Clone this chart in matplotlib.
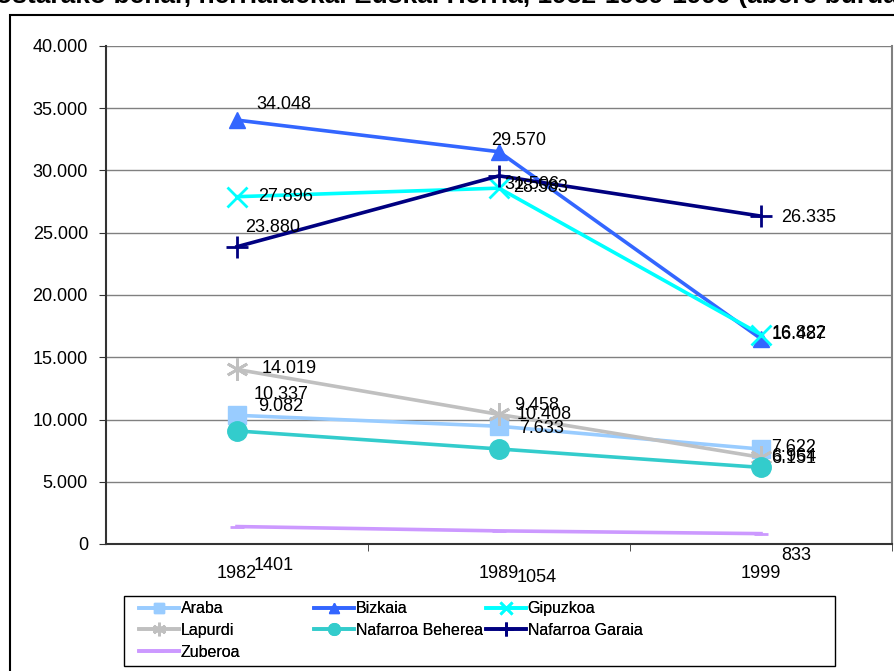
"""Livestock by territory, Euskal Herria 1982-1989-1999 (line chart with data labels)."""

import matplotlib

matplotlib.use("Agg")
import matplotlib.pyplot as plt
from matplotlib.patches import Rectangle
from matplotlib.ticker import FuncFormatter, FixedLocator

plt.rcParams["font.family"] = ["Liberation Sans", "DejaVu Sans"]

years = ["1982", "1989", "1999"]
araba = [10337, 9458, 7622]
bizkaia = [34048, 31506, 16487]
gipuzkoa = [27896, 28583, 16822]
lapurdi = [14019, 10408, 6964]
nafarroa_beherea = [9082, 7633, 6151]
nafarroa_garaia = [23880, 29570, 26335]
zuberoa = [1401, 1054, 833]

# label texts as shown in the chart
araba_labels = ["10.337", "9.458", "7.622"]
bizkaia_labels = ["34.048", "29.570", "16.487"]
gipuzkoa_labels = ["27.896", "28.583", "16.822"]
lapurdi_labels = ["14.019", "10.408", "6.964"]
nb_labels = ["9.082", "7.633", "6.151"]
ng_labels = ["23.880", "31.506", "26.335"]
zuberoa_labels = ["1401", "1054", "833"]

FS = 13

series = [
    ("Araba", araba, araba_labels, "#99CCFF", "s", 13, [(17, 21), (15, 21), (10, 2)]),
    ("Bizkaia", bizkaia, bizkaia_labels, "#3366FF", "^", 12, [(19, 16), (-8, 11), (11, 4)]),
    ("Gipuzkoa", gipuzkoa, gipuzkoa_labels, "#00FFFF", "x", 14, [(21, 0), (14, 1), (11, 1)]),
    ("Lapurdi", lapurdi, lapurdi_labels, "#C0C0C0", (6, 2, 0), 16, [(25, 1), (18, 0), (10, 1)]),
    ("Nafarroa Beherea", nafarroa_beherea, nb_labels, "#33CCCC", "o", 14, [(21, 24), (20, 20), (10, 9)]),
    ("Nafarroa Garaia", nafarroa_garaia, ng_labels, "#000080", "+", 16, [(8, 19), (5, -9), (20, -1)]),
    ("Zuberoa", zuberoa, zuberoa_labels, "#CC99FF", "_", 10, [(17, -39), (18, -47), (20, -22)]),
]

fig = plt.figure(figsize=(8.95, 6.71), dpi=100)
ax = fig.add_axes([106 / 895, 1 - 544 / 671, 786 / 895, 498 / 671])

x = list(range(len(years)))
handles = {}
for name, values, labels, color, marker, size, offsets in series:
    thin = marker in ("x", "+", "_") or isinstance(marker, tuple)
    (line,) = ax.plot(x, values, color=color, lw=2.6, marker=marker, ms=size,
                      mew=2 if thin else 1, mec=color, mfc=color, label=name, zorder=3)
    handles[name] = line
    for xi, v, text, (dx, dy) in zip(x, values, labels, offsets):
        ax.annotate(text, (xi, v), xytext=(dx, dy), textcoords="offset pixels",
                    ha="left", va="center", fontsize=FS, zorder=5)

ax.set_xlim(-0.5, 2.5)
ax.set_ylim(0, 40000)
ax.yaxis.set_major_locator(FixedLocator(range(0, 40001, 5000)))
ax.yaxis.set_major_formatter(FuncFormatter(lambda v, _: f"{v:,.0f}".replace(",", ".")))
ax.grid(axis="y", color="#808080", lw=1)
ax.set_axisbelow(True)
ax.set_xticks(x)
ax.set_xticklabels(years)
ax.set_xticks([0.5, 1.5, 2.5], minor=True)
ax.tick_params(axis="x", which="major", length=0, pad=15, labelsize=FS)
ax.tick_params(axis="x", which="minor", length=5, direction="out", color="#333333")
ax.tick_params(axis="y", length=5, direction="out", color="#333333", labelsize=FS, pad=8)
for side in ("left", "bottom"):
    ax.spines[side].set_color("#333333")
    ax.spines[side].set_linewidth(1.5)
ax.spines["top"].set_visible(False)
ax.spines["right"].set_color("#808080")
ax.spines["right"].set_linewidth(1.5)

# legend: three columns in a single box, filled row by row
columns = [["Araba", "Lapurdi", "Zuberoa"], ["Bizkaia", "Nafarroa Beherea"],
           ["Gipuzkoa", "Nafarroa Garaia"]]
col_x = [128, 303, 475]
for names, cx in zip(columns, col_x):
    leg = fig.legend([handles[n] for n in names], names, loc="upper left",
                     bbox_to_anchor=(cx / 895, 1 - 590 / 671), frameon=False,
                     fontsize=11.5, handlelength=2.5, handletextpad=0.1,
                     labelspacing=0.42, borderpad=0.2, markerscale=0.6)
    fig.add_artist(leg)
fig.add_artist(Rectangle((124 / 895, 1 - 666 / 671), 711 / 895, 70 / 671,
                         transform=fig.transFigure, fill=False, ec="black", lw=1))

# outer chart border
fig.add_artist(Rectangle((10 / 895, -0.1), 1.2, 1 - 15 / 671 + 0.1,
                         transform=fig.transFigure, fill=False, ec="black", lw=1.5))

# title, cut off at the top of the image
fig.text(-0.005, 1 + 4 / 671, "ostarako behar, herrialdeka. Euskal Herria, 1982-1989-1999 (abere burua)",
         ha="left", va="center", fontsize=19, fontweight="bold")

fig.savefig("out.png", dpi=100)
